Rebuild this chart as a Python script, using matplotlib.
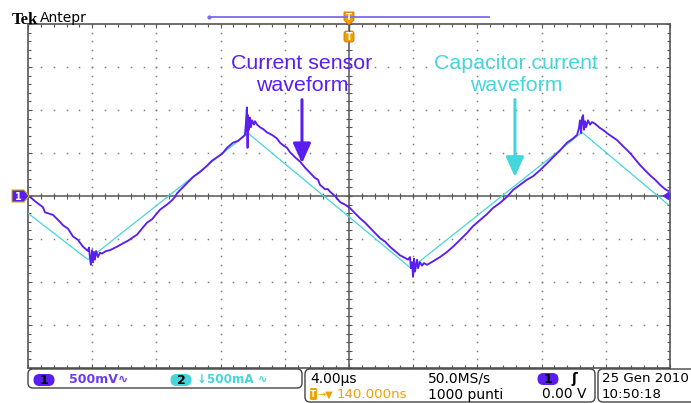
import matplotlib
matplotlib.use("Agg")
import numpy as np
import matplotlib.pyplot as plt
from matplotlib.patches import Polygon, FancyBboxPatch

# Tek scope capture: 4.00 us/div, ch1 500 mV/div, ch2 500 mA/div
t_sensor_us = [-20.00, -19.88, -19.50, -19.07, -18.94, -18.44, -18.01, -17.82, -17.51, -17.20,
               -16.89, -16.57, -16.39, -16.26, -16.20, -16.14, -16.08, -16.01, -15.95, -15.89,
               -15.83, -15.76, -15.64, -15.52, -15.39, -15.14, -14.89, -14.46, -14.08, -13.77,
               -13.46, -13.21, -12.90, -12.59, -12.27, -11.96, -11.78, -11.34, -11.03, -10.84,
               -10.72, -10.41, -10.09, -9.72, -9.28, -8.85, -8.54, -8.22, -7.91, -7.60,
               -7.23, -6.92, -6.60, -6.48, -6.42, -6.36, -6.32, -6.29, -6.23, -6.17,
               -6.11, -6.04, -5.92, -5.86, -5.73, -5.55, -5.36, -5.11, -4.80, -4.49,
               -4.30, -4.11, -3.86, -3.68, -3.36, -3.05, -2.74, -2.43, -2.12, -1.93,
               -1.81, -1.50, -1.31, -1.18, -0.87, -0.56, -0.25, 0.06, 0.37, 0.69,
               1.00, 1.31, 1.62, 1.93, 2.24, 2.55, 2.87, 3.18, 3.49, 3.68,
               3.80, 3.86, 3.93, 3.99, 4.05, 4.11, 4.24, 4.30, 4.42, 4.55,
               4.67, 4.86, 5.23, 5.67, 6.11, 6.48, 6.92, 7.35, 7.73, 8.16,
               8.60, 8.97, 9.41, 9.84, 10.22, 10.66, 11.09, 11.47, 11.90, 12.34,
               12.71, 13.15, 13.58, 13.90, 14.21, 14.33, 14.39, 14.46, 14.52, 14.58,
               14.64, 14.71, 14.77, 14.89, 15.02, 15.14, 15.33, 15.64, 15.89, 16.08,
               16.39, 16.70, 17.07, 17.51, 17.82, 18.13, 18.44, 18.76, 19.07, 19.38,
               19.69, 19.88]
v_sensor_V = [0.00, -0.01, -0.07, -0.13, -0.19, -0.22, -0.30, -0.34, -0.38, -0.47,
              -0.51, -0.59, -0.62, -0.64, -0.60, -0.72, -0.80, -0.63, -0.77, -0.65,
              -0.74, -0.64, -0.71, -0.66, -0.67, -0.64, -0.63, -0.59, -0.55, -0.52,
              -0.48, -0.45, -0.38, -0.31, -0.27, -0.20, -0.16, -0.10, -0.05, -0.01,
              0.03, 0.09, 0.15, 0.22, 0.28, 0.35, 0.41, 0.45, 0.49, 0.56,
              0.62, 0.64, 0.69, 0.71, 0.86, 1.03, 0.56, 0.94, 0.77, 0.91,
              0.80, 0.88, 0.83, 0.87, 0.83, 0.80, 0.78, 0.74, 0.71, 0.67,
              0.62, 0.59, 0.56, 0.51, 0.45, 0.40, 0.33, 0.27, 0.21, 0.19,
              0.13, 0.08, 0.08, 0.05, 0.00, -0.07, -0.10, -0.14, -0.20, -0.26,
              -0.31, -0.37, -0.43, -0.49, -0.53, -0.59, -0.64, -0.69, -0.72, -0.74,
              -0.71, -0.84, -0.77, -0.94, -0.73, -0.88, -0.74, -0.84, -0.77, -0.81,
              -0.78, -0.80, -0.76, -0.71, -0.65, -0.59, -0.51, -0.43, -0.35, -0.28,
              -0.21, -0.14, -0.08, -0.01, 0.07, 0.13, 0.19, 0.23, 0.30, 0.38,
              0.45, 0.53, 0.62, 0.66, 0.71, 0.79, 0.88, 0.73, 0.91, 0.94,
              0.77, 0.87, 0.80, 0.88, 0.83, 0.86, 0.84, 0.79, 0.76, 0.73,
              0.69, 0.65, 0.58, 0.50, 0.43, 0.36, 0.30, 0.24, 0.19, 0.13,
              0.08, 0.06]

t_cap_us = [-20.00, -16.26, -6.29, 3.86, 14.52, 19.88]
i_cap_A = [-0.20, -0.74, 0.73, -0.84, 0.74, -0.10]

labels = ["Current sensor\nwaveform", "Capacitor current\nwaveform"]

purple = "#5a1ff0"
cyan = "#45d6dc"
orange = "#f2a000"
frame = "#555555"

fig = plt.figure(figsize=(6.91, 4.03), dpi=100)
ax = fig.add_axes([28 / 691, 35 / 403, 642 / 691, 344 / 403])
ax.set_xlim(-20, 20)
ax.set_ylim(-2, 2)

# graticule
ax.set_xticks(np.arange(-20, 20.1, 4))
ax.set_xticks(np.arange(-20, 20.1, 0.8), minor=True)
ax.set_yticks(np.arange(-2, 2.01, 0.5))
ax.set_yticks(np.arange(-2, 2.01, 0.1), minor=True)
ax.tick_params(which="both", direction="in", top=True, right=True,
               labelbottom=False, labelleft=False, color=frame, width=0.8)
ax.tick_params(which="major", length=3)
ax.tick_params(which="minor", length=2)
for s in ax.spines.values():
    s.set_color(frame)
    s.set_linewidth(1.2)

minor_x = np.arange(-20, 20.01, 0.8)
minor_y = np.arange(-2, 2.001, 0.1)
for gx in np.arange(-16, 17, 4):
    if gx != 0:
        ax.plot(np.full_like(minor_y, gx), minor_y, ls="none", marker="s",
                ms=1.1, mew=0, color="#808080")
for gy in np.arange(-1.5, 1.6, 0.5):
    if abs(gy) > 1e-9:
        ax.plot(minor_x, np.full_like(minor_x, gy), ls="none", marker="s",
                ms=1.1, mew=0, color="#808080")
ax.axhline(0, color=frame, lw=1.1, zorder=2)
ax.axvline(0, color=frame, lw=1.1, zorder=2)
ax.plot(minor_x, np.zeros_like(minor_x), ls="none", marker="|", ms=4.5,
        mew=0.8, color=frame, zorder=2)
ax.plot(np.zeros_like(minor_y), minor_y, ls="none", marker="_", ms=4.5,
        mew=0.8, color=frame, zorder=2)

# traces
ax.plot(t_cap_us, i_cap_A, color=cyan, lw=0.9, zorder=3)
ax.plot(t_sensor_us, v_sensor_V, color=purple, lw=1.35, zorder=4)

# annotations
ax.text(-2.93, 1.41, labels[0], color=purple, ha="center", va="center",
        fontsize=15.4, family="Liberation Sans", linespacing=1.2)
ax.annotate("", xy=(-2.93, 0.38), xytext=(-2.93, 1.12),
            arrowprops=dict(arrowstyle="-|>,head_length=1.0,head_width=0.45",
                            mutation_scale=12, lw=2.2, color=purple,
                            shrinkA=0, shrinkB=0))
ax.text(10.4, 1.41, labels[1], color=cyan, ha="center", va="center",
        fontsize=15.4, family="Liberation Sans", linespacing=1.2)
ax.annotate("", xy=(10.34, 0.22), xytext=(10.34, 1.12),
            arrowprops=dict(arrowstyle="-|>,head_length=1.0,head_width=0.45",
                            mutation_scale=12, lw=2.2, color=cyan,
                            shrinkA=0, shrinkB=0))

# screen decorations in pixel coordinates
ov = fig.add_axes([0, 0, 1, 1], zorder=5)
ov.set_xlim(0, 691)
ov.set_ylim(403, 0)
ov.axis("off")

ov.text(12, 24, "Tek", family="Liberation Serif", weight="bold", fontsize=12,
        va="baseline", color="black")
ov.text(40, 22, "Antepr", family="DejaVu Sans", fontsize=10, va="baseline",
        color="black")

ov.plot([209, 489], [17, 17], color="#7b6cf0", lw=1.3)
ov.plot([209], [17], marker="o", ms=2, color="#7b6cf0")
ov.add_patch(Polygon([(344, 12), (354, 12), (354, 20), (349, 25), (344, 20)],
                     closed=True, fc=orange, ec="#c07800", lw=0.6))
ov.text(349, 17, "T", ha="center", va="center", fontsize=6, color="white",
        weight="bold")
ov.plot([349, 349], [25, 31], color=frame, lw=1)
ov.add_patch(FancyBboxPatch((344, 31), 10, 11, boxstyle="round,pad=0,rounding_size=2.5",
                            fc=orange, ec="#c07800", lw=0.6))
ov.text(349, 36.5, "T", ha="center", va="center", fontsize=7, color="white",
        weight="bold")

ov.add_patch(Polygon([(12, 190), (24, 190), (29, 196), (24, 202), (12, 202)],
                     closed=True, fc=purple, ec="#c8b400", lw=0.8))
ov.text(18, 196.5, "1", ha="center", va="center", fontsize=7, color="white",
        weight="bold")
ov.add_patch(Polygon([(663, 196), (669, 192), (669, 200)], closed=True,
                     fc=purple, ec=purple, lw=0.5))

# status bar
for x0, w, h in [(28, 274, 19), (305, 290, 33), (598, 110, 33)]:
    ov.add_patch(FancyBboxPatch((x0, 369), w, h, boxstyle="round,pad=0,rounding_size=5",
                                fc="white", ec="#444444", lw=1.0))


def pill(cx, cy, txt, color):
    ov.add_patch(FancyBboxPatch((cx - 10.5, cy - 6), 21, 12,
                                boxstyle="round,pad=0,rounding_size=6",
                                fc=color, ec="none"))
    ov.text(cx, cy + 0.5, txt, ha="center", va="center", fontsize=9,
            color="black", weight="bold")


fs = 10
pill(44, 380, "1", purple)
ov.text(69, 379.5, "500mV∿", fontsize=9, color="#6a3cf0", va="center",
        weight="bold")
pill(181, 380, "2", cyan)
ov.text(197, 379.5, "↓500mA ∿", fontsize=8.6, color=cyan, va="center",
        weight="bold")

ov.text(310, 379, "4.00µs", fontsize=fs, color="black", va="center")
ov.text(428, 379, "50.0MS/s", fontsize=fs, color="black", va="center")
pill(548, 379, "1", purple)
ov.text(572, 379, "ʃ", fontsize=fs, color="black", va="center", weight="bold")
ov.add_patch(FancyBboxPatch((310, 388), 7, 12, boxstyle="round,pad=0,rounding_size=1.5",
                            fc=orange, ec="none"))
ov.text(313.5, 394.5, "T", ha="center", va="center", fontsize=6.5, color="white",
        weight="bold")
ov.text(318, 394.5, "→▼", fontsize=7, color=orange, va="center")
ov.text(337, 394.5, "140.000ns", fontsize=9.6, color=orange, va="center")
ov.text(428, 394.5, "1000 punti", fontsize=fs, color="black", va="center")
ov.text(587, 394.5, "0.00 V", fontsize=fs, color="black", va="center", ha="right")

ov.text(602, 379, "25 Gen 2010", fontsize=9.6, color="black", va="center")
ov.text(602, 394.5, "10:50:18", fontsize=9.6, color="black", va="center")

fig.savefig("out.png", dpi=100)
